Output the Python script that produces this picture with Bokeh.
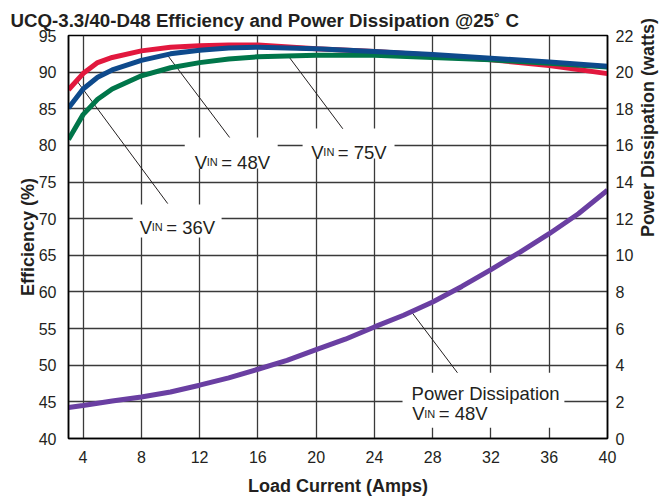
import math
from bokeh.plotting import figure
from bokeh.models import Range1d, LinearAxis, FixedTicker, Label
from bokeh.embed import file_html
from bokeh.resources import INLINE

# ---- data ----
current_eff = [3, 4, 5, 6, 8, 10, 12, 14, 16, 20, 24, 28, 32, 36, 40]
eff_36v = [87.6, 89.8, 91.3, 92.0, 92.9, 93.4, 93.6, 93.7, 93.7, 93.2, 92.8, 92.3, 91.7, 90.9, 89.8]
eff_48v = [85.1, 87.7, 89.3, 90.3, 91.6, 92.5, 93.0, 93.3, 93.4, 93.2, 92.8, 92.4, 91.9, 91.4, 90.8]
eff_75v = [80.8, 84.2, 86.3, 87.7, 89.5, 90.6, 91.3, 91.8, 92.1, 92.3, 92.3, 92.0, 91.7, 91.2, 90.7]

current_pd = [3, 4, 6, 8, 10, 12, 14, 16, 18, 20, 22, 24, 26, 28, 30, 32, 34, 36, 38, 40]
pd_48v = [1.69, 1.80, 2.05, 2.27, 2.54, 2.91, 3.31, 3.78, 4.27, 4.85, 5.42, 6.09,
          6.73, 7.45, 8.30, 9.22, 10.18, 11.18, 12.27, 13.55]

x_ticks = [4, 8, 12, 16, 20, 24, 28, 32, 36, 40]
eff_ticks = [40, 45, 50, 55, 60, 65, 70, 75, 80, 85, 90, 95]
pd_ticks = [0, 2, 4, 6, 8, 10, 12, 14, 16, 18, 20, 22]

title_text = "UCQ-3.3/40-D48 Efficiency and Power Dissipation @25\u02da C"

RED = "#E2183E"
BLUE = "#0E4A8C"
GREEN = "#00764A"
PURPLE = "#6A3FA2"
INK = "#231F20"
FONT = "Liberation Sans"
NARROW = "Liberation Sans Narrow, Liberation Sans"

p = figure(width=671, height=498, x_range=Range1d(3, 40), y_range=Range1d(40, 95),
           output_backend="svg", toolbar_location=None,
           min_border_left=68, min_border_right=63, min_border_top=35, min_border_bottom=60)

p.title.text = title_text
p.title.text_font = FONT
p.title.text_font_size = "18.7px"
p.title.text_font_style = "bold"
p.title.text_color = INK
p.title.offset = -58
p.title.standoff = 10

p.outline_line_color = "black"
p.outline_line_width = 1.5
p.background_fill_color = "white"
p.border_fill_color = "white"

p.extra_y_ranges = {"pd": Range1d(0, 22)}
right_axis = LinearAxis(y_range_name="pd", ticker=FixedTicker(ticks=pd_ticks),
                        axis_label="Power Dissipation (watts)")
p.add_layout(right_axis, "right")

p.xaxis.ticker = FixedTicker(ticks=x_ticks)
p.yaxis[0].ticker = FixedTicker(ticks=eff_ticks)
p.xaxis.axis_label = "Load Current (Amps)"
p.yaxis[0].axis_label = "Efficiency (%)"

for ax in [p.xaxis[0], p.yaxis[0], right_axis]:
    ax.major_tick_out = 0
    ax.major_tick_in = 0
    ax.minor_tick_out = 0
    ax.minor_tick_in = 0
    ax.axis_line_color = "black"
    ax.axis_line_width = 1.5
    ax.major_label_text_font = NARROW
    ax.major_label_text_font_size = "16px"
    ax.major_label_text_color = INK
    ax.axis_label_text_font = FONT
    ax.axis_label_text_font_size = "18px"
    ax.axis_label_text_font_style = "bold"
    ax.axis_label_text_color = INK

p.xaxis.major_label_standoff = 12
p.xaxis.axis_label_standoff = 10
p.yaxis[0].major_label_standoff = 12
p.yaxis[0].axis_label_standoff = -2
right_axis.major_label_standoff = 8
right_axis.axis_label_standoff = 12
right_axis.axis_label_orientation = math.pi / 2

p.xgrid.ticker = FixedTicker(ticks=x_ticks)
p.ygrid.ticker = FixedTicker(ticks=eff_ticks)
for g in [p.xgrid[0], p.ygrid[0]]:
    g.grid_line_color = "#3a3a3a"
    g.grid_line_width = 1.3

# white boxes behind the annotation texts (mask grid)
box_l = [10.98, 19.07, 7.41, 25.93]
box_r = [17.36, 25.38, 13.51, 37.04]
box_t = [81.08, 82.31, 71.93, 48.97]
box_b = [76.84, 78.21, 67.42, 41.46]
p.quad(left=box_l, right=box_r, top=box_t, bottom=box_b, fill_color="white", line_color=None)

# leader lines
p.segment(x0=[3.55, 9.72, 18.06, 26.52], y0=[88.87, 92.51, 92.28, 57.35],
          x1=[9.81, 14.06, 21.83, 29.70], y1=[72.06, 81.08, 82.27, 48.97],
          line_color=INK, line_width=1)

# curves
p.line(current_eff, eff_36v, line_color=RED, line_width=5)
p.line(current_eff, eff_75v, line_color=GREEN, line_width=5)
p.line(current_eff, eff_48v, line_color=BLUE, line_width=5)
p.line(current_pd, pd_48v, line_color=PURPLE, line_width=5, y_range_name="pd")


def txt(x, y, text, size="18.5px", dx=0):
    p.add_layout(Label(x=x, y=y, x_offset=dx, text=text, text_font=FONT,
                       text_font_size=size, text_color=INK,
                       text_baseline="alphabetic", text_align="left"))


def vin(x, y, rest):
    txt(x, y, "V")
    txt(x, y, "IN", size="11px", dx=12)
    txt(x, y, rest, dx=26.5)


vin(11.66, 77.7, "= 48V")
vin(19.67, 79.07, "= 75V")
vin(7.89, 68.83, "= 36V")
txt(26.55, 46.18, "Power Dissipation")
vin(26.6, 43.37, "= 48V")

open("out.html", "w").write(file_html(p, INLINE))
